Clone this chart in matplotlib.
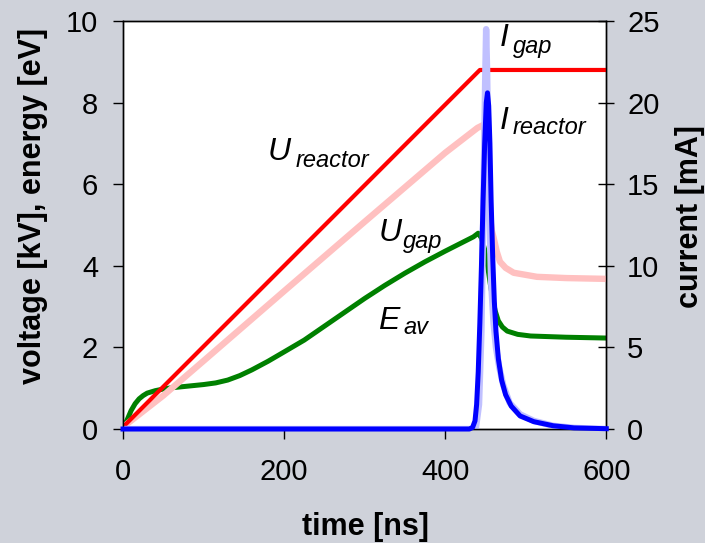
import matplotlib
matplotlib.use("Agg")
import matplotlib.pyplot as plt

plt.rcParams["font.family"] = ["Liberation Sans", "DejaVu Sans"]

# voltages / energy (left axis)
t_ureactor = [0, 443, 600]
u_reactor = [0.05, 8.8, 8.8]

t_ugap = [0, 50, 100, 200, 300, 400, 440, 447, 449, 452, 455, 458, 460, 464,
          468, 475, 485, 514, 550, 600]
u_gap = [0.05, 0.82, 1.67, 3.38, 5.08, 6.77, 7.38, 7.45, 7.3, 6.0, 5.3, 4.85,
         4.7, 4.35, 4.1, 3.95, 3.83, 3.73, 3.7, 3.68]

t_eav = [0, 5, 10, 15, 20, 25, 30, 40, 50, 60, 70, 85, 100, 115, 130, 145,
         160, 180, 200, 225, 250, 275, 300, 325, 350, 375, 400, 420, 435,
         441, 445, 449, 453, 456, 459, 462, 466, 471, 477, 490, 506, 550, 600]
e_av = [0.0, 0.22, 0.45, 0.62, 0.74, 0.82, 0.88, 0.94, 0.98, 1.01, 1.03, 1.06,
        1.09, 1.13, 1.2, 1.31, 1.45, 1.66, 1.89, 2.18, 2.52, 2.86, 3.2, 3.52,
        3.82, 4.1, 4.36, 4.56, 4.71, 4.8, 4.68, 4.4, 3.95, 3.55, 3.2, 2.9,
        2.65, 2.5, 2.4, 2.32, 2.28, 2.25, 2.23]

# currents (right axis)
t_ireactor = [0, 430, 434, 437, 439, 441, 443, 445, 447, 449, 451, 452.5, 454,
              455.5, 457, 459, 461, 463, 466, 470, 475, 482, 493, 510, 534,
              560, 600]
i_reactor = [0, 0, 0.1, 0.5, 1.5, 3.5, 6.5, 10, 14, 17.5, 20, 20.6, 19.8,
             17.5, 14, 10.5, 7.8, 6.0, 4.3, 3.0, 2.1, 1.4, 0.8, 0.45, 0.2,
             0.07, 0.02]

t_igap = [0, 438, 442, 445, 447.5, 449.5, 450.8, 452, 453.5, 455, 457, 460,
          463, 467, 472, 480, 493, 510, 534, 560, 600]
i_gap = [0, 0, 1.5, 6, 14, 21, 24.5, 22, 17, 13, 9, 6.5, 5, 3.8, 2.7, 1.6,
         0.9, 0.5, 0.2, 0.07, 0]

bg = "#cfd2da"
fig = plt.figure(figsize=(7.05, 5.43), dpi=100, facecolor=bg)
ax = fig.add_axes([0.1745, 0.2099, 0.6855, 0.7514])
ax.set_facecolor("white")

ax.plot(t_eav, e_av, color="#008000", lw=3.6, solid_capstyle="butt", zorder=2)
ax.plot(t_ugap, u_gap, color="#ffc0c0", lw=4.6, solid_capstyle="butt", zorder=3)
ax.plot(t_ureactor, u_reactor, color="#ff0000", lw=3.0, solid_capstyle="butt", zorder=4)

ax.set_xlim(0, 600)
ax.set_ylim(0, 10)
ax.set_xticks([0, 200, 400, 600])
ax.set_yticks([0, 2, 4, 6, 8, 10])
ax.tick_params(axis="both", direction="out", length=7, width=1, labelsize=21)
ax.tick_params(axis="y", pad=11)
ax.tick_params(axis="x", pad=14)

ax2 = ax.twinx()
ax2.plot(t_igap, i_gap, color="#c0c0ff", lw=4.6, zorder=2)
ax2.plot(t_ireactor, i_reactor, color="#0000ff", lw=3.6, zorder=3, clip_on=False)
ax2.set_ylim(0, 25)
ax2.set_yticks([0, 5, 10, 15, 20, 25])
ax2.tick_params(axis="y", direction="inout", length=12, width=1, labelsize=21, pad=9)

for a in (ax, ax2):
    for s in a.spines.values():
        s.set_linewidth(1)

# axis titles
fig.text(0.518, 0.0147, "time [ns]", fontsize=22, fontweight="bold",
         ha="center", va="baseline")
fig.text(0.047, 0.6206, "voltage [kV], energy [eV]", rotation=90, fontsize=22,
         fontweight="bold", ha="center", va="center")
fig.text(0.979, 0.602, "current [mA]", rotation=90, fontsize=22,
         fontweight="bold", ha="center", va="center")

# curve labels: italic symbol with a smaller italic subscript
labels = [
    ("U", 180, 6.59, "reactor", 214, 6.42),
    ("U", 317, 4.61, "gap", 348, 4.44),
    ("E", 317, 2.45, "av", 348, 2.33),
    ("I", 468, 9.39, "gap", 484, 9.22),
    ("I", 468, 7.35, "reactor", 484, 7.23),
]
for sym, xs, ys, sub, xb, yb in labels:
    ax.text(xs, ys, sym, fontsize=23, style="italic", va="baseline", ha="left", zorder=6)
    ax.text(xb, yb, sub, fontsize=17, style="italic", va="baseline", ha="left", zorder=6)

fig.savefig("out.png", dpi=100, facecolor=bg)
